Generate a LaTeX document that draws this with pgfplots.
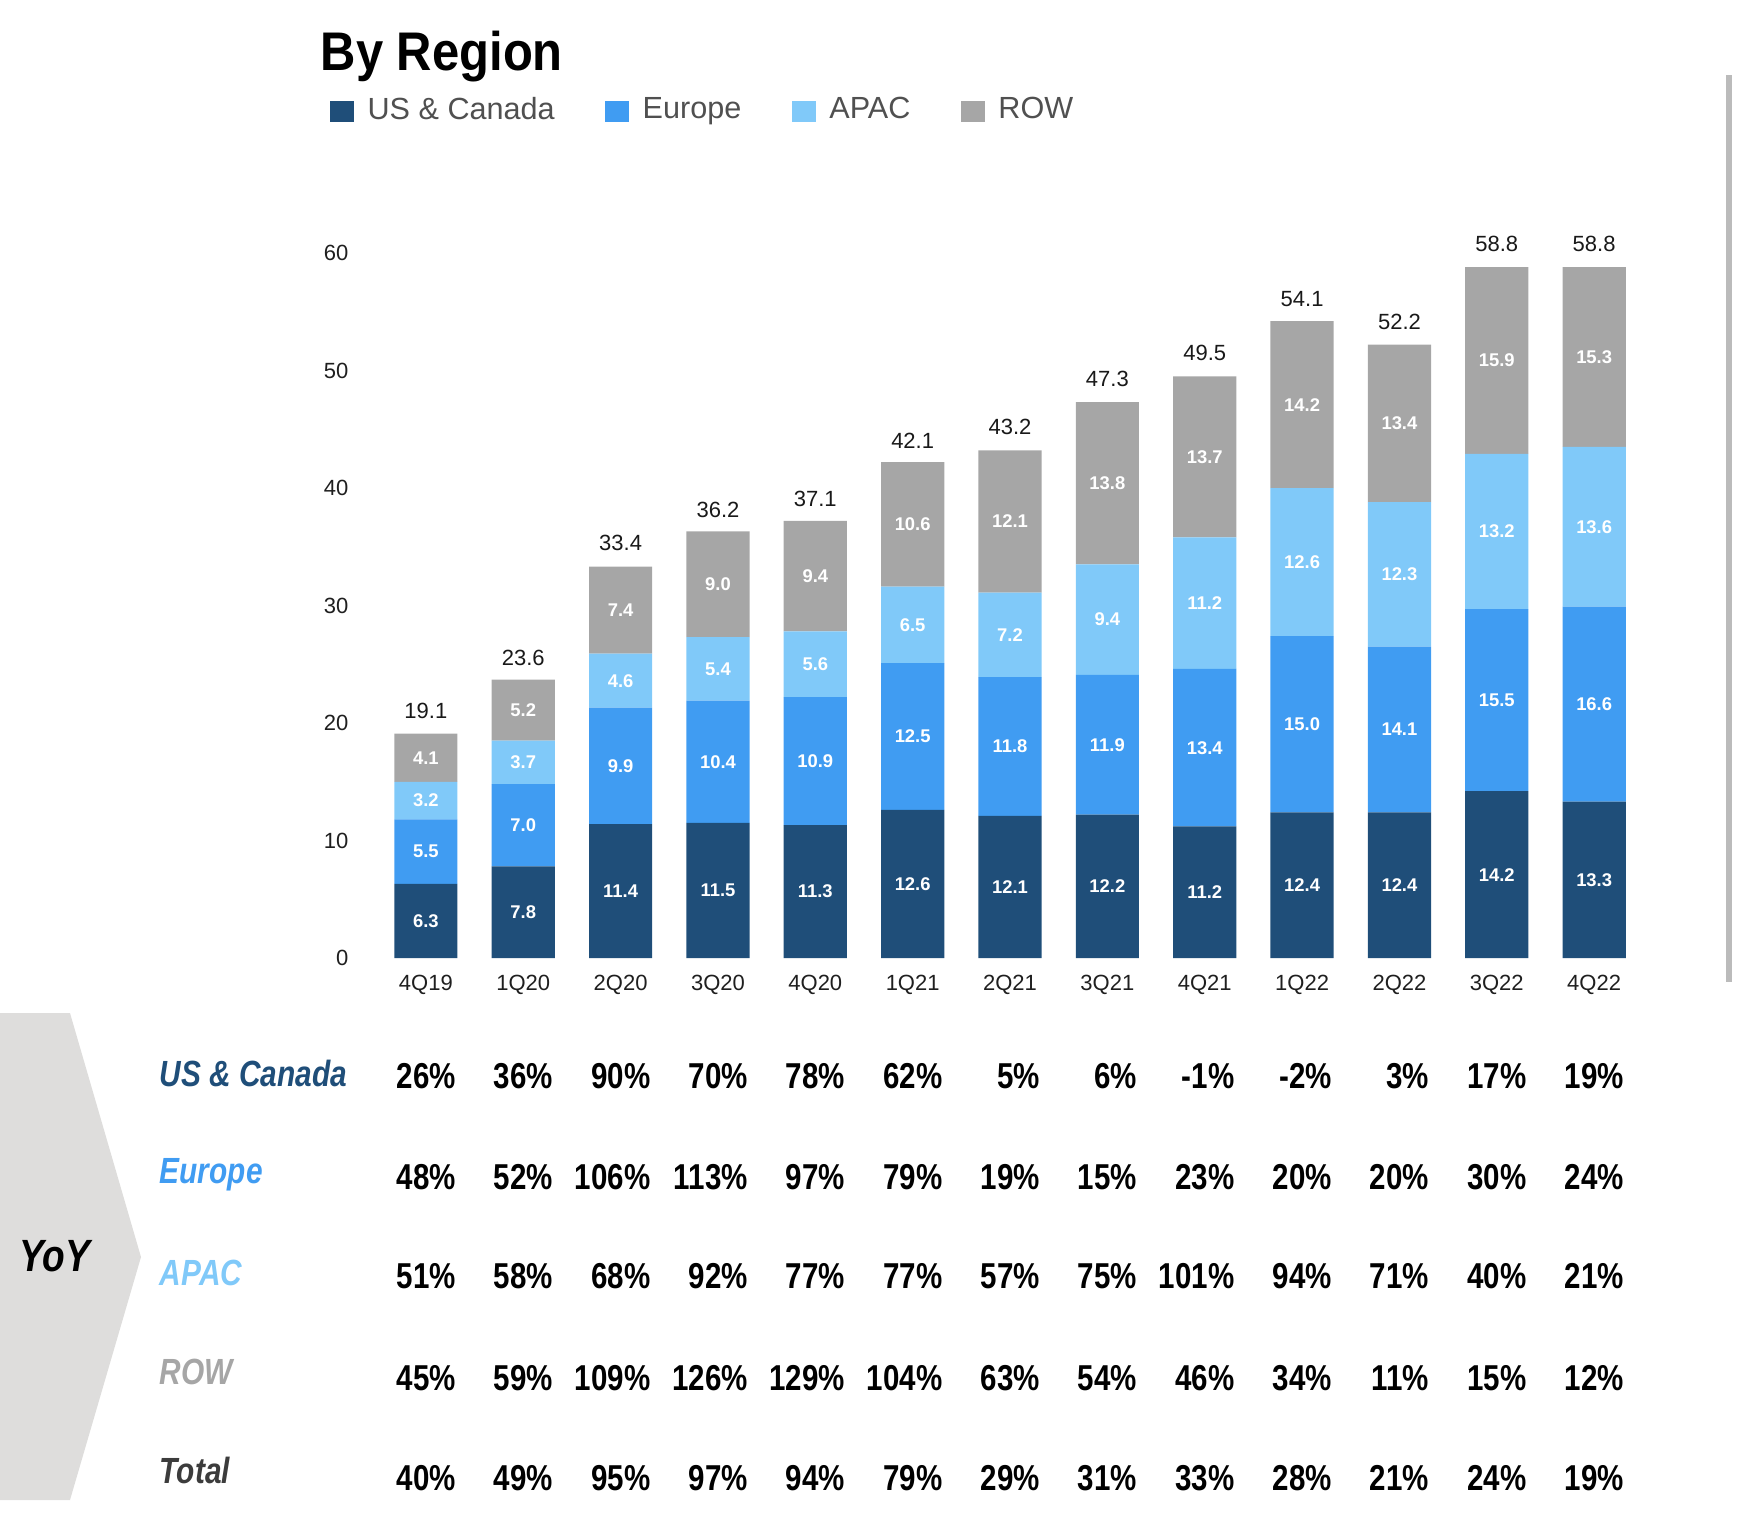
\documentclass[border=0pt]{standalone}
\usepackage{pgfplots}
\usepackage{pgfplotstable}
\pgfplotsset{compat=1.18}
\usepackage{fontspec}
\setmainfont{Liberation Sans}
\newfontfamily\narrowfont[FakeStretch=0.82]{Liberation Sans}
\newfontfamily\titlefont[FakeStretch=0.9]{Liberation Sans}
\definecolor{cUS}{HTML}{1F4E79}
\definecolor{cEU}{HTML}{409CF2}
\definecolor{cAP}{HTML}{80C9F9}
\definecolor{cRW}{HTML}{A6A6A6}
\definecolor{legtxt}{HTML}{505050}
\definecolor{chev}{HTML}{DEDDDC}
\definecolor{totrow}{HTML}{3C3C3C}
\definecolor{sidebar}{HTML}{BBBBBB}

\pgfplotstableread{
x us eu ap rw tot
0 6.3 5.5 3.2 4.1 19.1
1 7.8 7.0 3.7 5.2 23.6
2 11.4 9.9 4.6 7.4 33.4
3 11.5 10.4 5.4 9.0 36.2
4 11.3 10.9 5.6 9.4 37.1
5 12.6 12.5 6.5 10.6 42.1
6 12.1 11.8 7.2 12.1 43.2
7 12.2 11.9 9.4 13.8 47.3
8 11.2 13.4 11.2 13.7 49.5
9 12.4 15.0 12.6 14.2 54.1
10 12.4 14.1 12.3 13.4 52.2
11 14.2 15.5 13.2 15.9 58.8
12 13.3 16.6 13.6 15.3 58.8
}\rev

\newcommand\vfont{\narrowfont\bfseries\fontsize{9}{10}\selectfont}
\newcommand\lfont{\narrowfont\bfseries\itshape\fontsize{9.1}{10}\selectfont}
\newcommand\yoyrow[2]{\foreach \v [count=\i from 0] in {#2} \node[anchor=base east, inner sep=0pt, font=\vfont] at ({456.5+97.33*\i},#1) {\v\%};}

\begin{document}
\begin{tikzpicture}
\begin{scope}[x=0.25pt,y=-0.25pt]
\useasboundingbox (0,0) rectangle (1740,1520);
% chevron background
\fill[chev] (0,1013) -- (70,1013) -- (141,1257) -- (70,1500) -- (0,1500) -- cycle;
% side bar
\fill[sidebar] (1726,75) rectangle (1732,982);
% title
\node[anchor=base west, inner sep=0pt, font=\titlefont\bfseries\fontsize{13.6}{15}\selectfont] at (320,70) {By Region};
\end{scope}

\begin{axis}[
  at={(87pt,-239.5pt)}, anchor=south west,
  scale only axis, width=331pt, height=176.25pt,
  xmin=-0.8, xmax=12.8, ymin=0, ymax=60,
  ybar stacked, bar width=15.8pt,
  xtick={0,...,12},
  xticklabels={4Q19,1Q20,2Q20,3Q20,4Q20,1Q21,2Q21,3Q21,4Q21,1Q22,2Q22,3Q22,4Q22},
  ytick={0,10,...,60},
  axis line style={draw=none}, tick style={draw=none},
  clip=false,
  /pgf/number format/assume math mode=true,
  tick label style={font=\fontsize{5.5}{6.6}\selectfont, text=black!88},
  yticklabel style={inner sep=0pt, xshift=0.3pt},
  xticklabel style={inner sep=0pt, yshift=-4.2pt},
  legend style={at={(axis description cs:-0.0136,1.2010)}, anchor=west,
    draw=none, fill=none, inner sep=0pt, outer sep=0pt,
    font=\fontsize{7.65}{9}\selectfont, text=legtxt,
    nodes={inner sep=0pt},
    /tikz/every odd column/.append style={column sep=3.4pt},
    /tikz/every even column/.append style={column sep=12.6pt}},
  legend columns=4, legend cell align=left,
  legend image code/.code={\fill[#1] (0pt,-2.65pt) rectangle (6pt,2.65pt);},
]
\addplot[fill=cUS, draw=none] table[x=x,y=us]{\rev};
\addplot[fill=cEU, draw=none] table[x=x,y=eu]{\rev};
\addplot[fill=cAP, draw=none] table[x=x,y=ap]{\rev};
\addplot[fill=cRW, draw=none] table[x=x,y=rw]{\rev};
\legend{US \& Canada, Europe, APAC, ROW}
\end{axis}

\begin{axis}[
  at={(87pt,-239.5pt)}, anchor=south west,
  scale only axis, width=331pt, height=176.25pt,
  xmin=-0.8, xmax=12.8, ymin=0, ymax=60,
  hide axis, clip=false,
  /pgf/number format/assume math mode=true,
  point meta=explicit,
  nodes near coords={\pgfmathprintnumber[fixed,fixed zerofill,precision=1]{\pgfplotspointmeta}},
  every node near coord/.append style={font=\bfseries\fontsize{4.6}{5}\selectfont, text=white, anchor=center, inner sep=0pt},
]
\addplot[draw=none, mark=none] table[x=x, y expr=\thisrow{us}/2, meta=us]{\rev};
\addplot[draw=none, mark=none] table[x=x, y expr=\thisrow{us}+\thisrow{eu}/2, meta=eu]{\rev};
\addplot[draw=none, mark=none] table[x=x, y expr=\thisrow{us}+\thisrow{eu}+\thisrow{ap}/2, meta=ap]{\rev};
\addplot[draw=none, mark=none] table[x=x, y expr=\thisrow{us}+\thisrow{eu}+\thisrow{ap}+\thisrow{rw}/2, meta=rw]{\rev};
\addplot[draw=none, mark=none, every node near coord/.append style={font=\mdseries\fontsize{5.5}{6.6}\selectfont, text=black!90, anchor=south, yshift=3.6pt}] table[x=x, y=tot, meta=tot]{\rev};
\end{axis}

\begin{scope}[x=0.25pt,y=-0.25pt]
\node[anchor=base, inner sep=0pt, font=\narrowfont\bfseries\itshape\fontsize{11.3}{12}\selectfont] at (55,1271) {YoY};
\node[anchor=base west, inner sep=0pt, font=\lfont, text=cUS] at (159,1086) {US \& Canada};
\node[anchor=base west, inner sep=0pt, font=\lfont, text=cEU] at (159,1183) {Europe};
\node[anchor=base west, inner sep=0pt, font=\lfont, text=cAP] at (159,1285) {APAC};
\node[anchor=base west, inner sep=0pt, font=\lfont, text=cRW] at (159,1384) {ROW};
\node[anchor=base west, inner sep=0pt, font=\lfont, text=totrow] at (159,1483) {Total};
\yoyrow{1088}{26,36,90,70,78,62,5,6,-1,-2,3,17,19}
\yoyrow{1189}{48,52,106,113,97,79,19,15,23,20,20,30,24}
\yoyrow{1288}{51,58,68,92,77,77,57,75,101,94,71,40,21}
\yoyrow{1390}{45,59,109,126,129,104,63,54,46,34,11,15,12}
\yoyrow{1490}{40,49,95,97,94,79,29,31,33,28,21,24,19}
\end{scope}
\end{tikzpicture}
\end{document}
